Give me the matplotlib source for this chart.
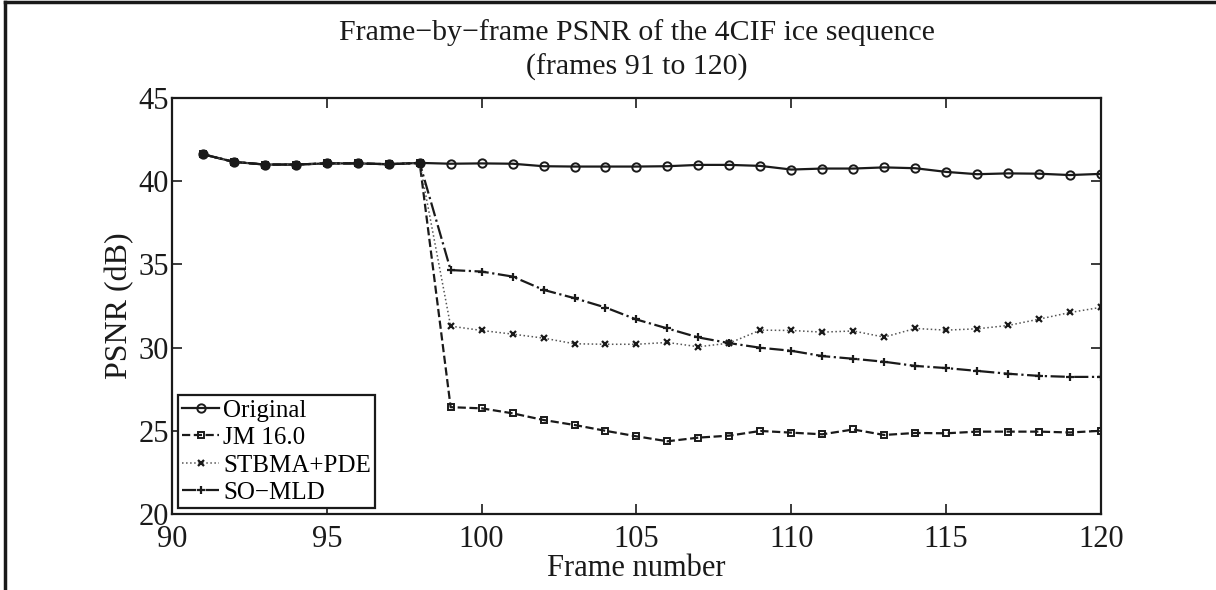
import numpy as np
import matplotlib
matplotlib.use('Agg')
import matplotlib.pyplot as plt
from matplotlib.lines import Line2D

plt.rcParams['font.family'] = ['Liberation Serif', 'DejaVu Serif']
plt.rcParams['mathtext.fontset'] = 'stix'

frames = np.arange(91, 121)

# PSNR values (dB), frames 91..120
original = [41.62, 41.16, 41.0, 41.0, 41.07, 41.07, 41.02, 41.1,
            41.05, 41.07, 41.05, 40.9, 40.88, 40.88, 40.88, 40.9,
            40.98, 40.98, 40.92, 40.7, 40.76, 40.76, 40.83, 40.78,
            40.56, 40.42, 40.47, 40.45, 40.37, 40.44]
jm = [41.62, 41.16, 41.0, 41.0, 41.07, 41.07, 41.02, 41.1,
      26.42, 26.35, 26.05, 25.65, 25.35, 25.0, 24.67, 24.37,
      24.59, 24.71, 24.99, 24.89, 24.79, 25.08, 24.75, 24.87,
      24.85, 24.95, 24.95, 24.95, 24.9, 25.0]
stbma = [41.62, 41.16, 41.0, 41.0, 41.07, 41.07, 41.02, 41.1,
         31.29, 31.03, 30.81, 30.57, 30.23, 30.2, 30.2, 30.31,
         30.05, 30.27, 31.05, 31.03, 30.93, 31.0, 30.63, 31.15,
         31.05, 31.13, 31.33, 31.71, 32.11, 32.42]
somld = [41.62, 41.16, 41.0, 41.0, 41.07, 41.07, 41.02, 41.1,
         34.66, 34.57, 34.27, 33.47, 32.97, 32.41, 31.69, 31.15,
         30.61, 30.27, 29.99, 29.81, 29.49, 29.33, 29.15, 28.9,
         28.77, 28.6, 28.43, 28.3, 28.24, 28.24]

labels = ['Original', 'JM 16.0', 'STBMA+PDE', 'SO\u2212MLD']
xticks = [90, 95, 100, 105, 110, 115, 120]
yticks = [20, 25, 30, 35, 40, 45]

fig = plt.figure(figsize=(12.16, 5.9), dpi=100)
ax = fig.add_axes([0.1414, 0.1288, 0.7640, 0.7051])

ax.plot(frames, original, '-', color='#1a1a1a', lw=1.6, marker='o',
        ms=6, mfc='none', mew=1.4, label=labels[0])
ax.plot(frames, jm, '--', color='#1a1a1a', lw=1.6, marker='s',
        ms=5, mfc='none', mew=1.4, label=labels[1])
ax.plot(frames, stbma, ':', color='#555555', lw=1.1, marker='x',
        ms=4.5, mec='#1a1a1a', mew=1.6, label=labels[2])
ax.plot(frames, somld, '-.', color='#1a1a1a', lw=1.6, marker='+',
        ms=5.5, mew=1.6, label=labels[3])

ax.set_xlim(90, 120)
ax.set_ylim(20, 45)
ax.set_xticks(xticks)
ax.set_yticks(yticks)
ax.tick_params(direction='in', length=7, width=1.2, labelsize=22,
               top=True, right=True, colors='#1a1a1a')
ax.tick_params(axis='x', pad=8)
ax.tick_params(axis='y', pad=2)
for s in ax.spines.values():
    s.set_linewidth(1.6)
    s.set_color('#1a1a1a')

ax.set_title('Frame\u2212by\u2212frame PSNR of the 4CIF ice sequence\n(frames 91 to 120)',
             fontsize=21.5, color='#1a1a1a', pad=17, linespacing=1.35)
ax.set_xlabel('Frame number', fontsize=22, labelpad=0, color='#1a1a1a')
ax.set_ylabel('PSNR (dB)', fontsize=23, labelpad=3, color='#1a1a1a')

leg = ax.legend(loc='lower left', bbox_to_anchor=(0.0, 0.0), fontsize=18,
                handlelength=1.5, handletextpad=0.15, borderpad=0.15,
                labelspacing=0.2, borderaxespad=0.25, fancybox=False,
                framealpha=1)
leg.get_frame().set_edgecolor('#1a1a1a')
leg.get_frame().set_linewidth(1.6)

# partial outer border (left and top)
fig.add_artist(Line2D([0.0045, 0.0045], [0, 0.997], transform=fig.transFigure,
                      color='#1a1a1a', lw=2.5))
fig.add_artist(Line2D([0.0045, 1.0], [0.997, 0.997], transform=fig.transFigure,
                      color='#1a1a1a', lw=2.5))

fig.savefig('out.png', dpi=100)
